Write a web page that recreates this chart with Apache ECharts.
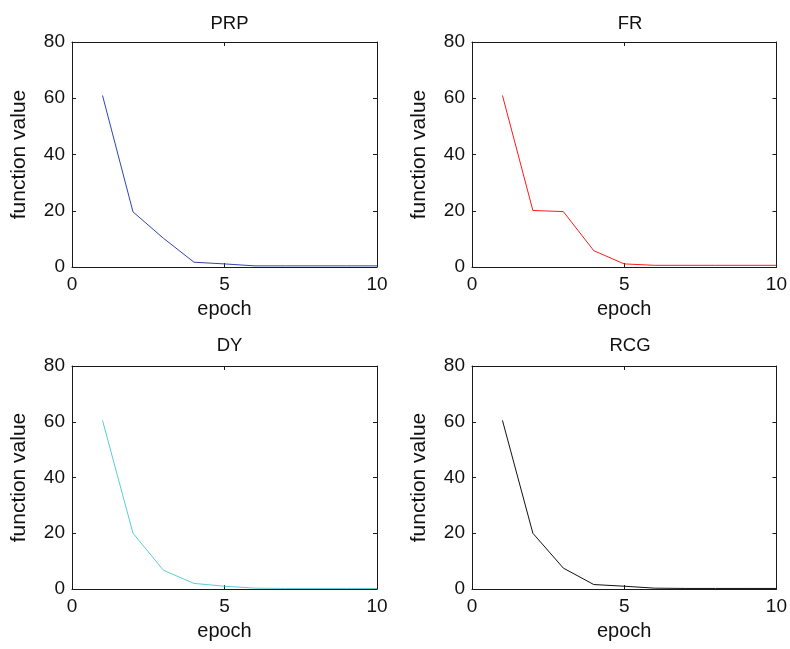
<!DOCTYPE html>
<html>
<head>
<meta charset="utf-8">
<script src="https://cdn.jsdelivr.net/npm/echarts@6/dist/echarts.min.js"></script>
<style>html,body{margin:0;padding:0;background:#fff;}#c{width:790px;height:649px;}</style>
</head>
<body>
<div id="c"></div>
<script>
const epochs = [1, 2, 3, 4, 5, 6, 7, 8, 9, 10];
const prpValues = [61, 19.6, 10.2, 1.7, 1.1, 0.4, 0.4, 0.4, 0.4, 0.4];
const frValues  = [61, 20.1, 19.7, 5.8, 1.1, 0.6, 0.6, 0.6, 0.6, 0.6];
const dyValues  = [60.5, 20, 6.7, 2.0, 1.0, 0.3, 0.2, 0.2, 0.2, 0.2];
const rcgValues = [60.5, 20, 7.5, 1.6, 1.0, 0.3, 0.2, 0.2, 0.2, 0.2];
const titles = ['PRP', 'FR', 'DY', 'RCG'];
const colors = ['#2f45ad', '#ff1a1a', '#5cccd8', '#111111'];
const xTicks = { min: 0, max: 10, interval: 5 };
const yTicks = { min: 0, max: 80, interval: 20 };

const grids = [
  { left: 72, top: 42, width: 305, height: 225 },
  { left: 472, top: 42, width: 306, height: 225 },
  { left: 72, top: 366, width: 305, height: 223 },
  { left: 472, top: 366, width: 306, height: 223 }
];
const titleOffsets = [33, 33, 35, 35];
const allValues = [prpValues, frValues, dyValues, rcgValues];
const font = 'Liberation Sans, Arial, Helvetica, sans-serif';
const axisColor = '#1a1a1a';

const xAxes = [], yAxes = [], series = [], titleArr = [];
grids.forEach((g, i) => {
  const base = {
    type: 'value', gridIndex: i,
    axisLine: { show: true, onZero: false, lineStyle: { color: axisColor, width: 1 } },
    splitLine: { show: false },
    axisTick: { show: true, inside: true, length: 4, lineStyle: { color: axisColor } }
  };
  xAxes.push(Object.assign({}, base, {
    position: 'bottom', min: xTicks.min, max: xTicks.max, interval: xTicks.interval,
    name: 'epoch', nameLocation: 'middle', nameGap: 32.5,
    nameTextStyle: { fontFamily: font, fontSize: 20, color: '#111' },
    axisLabel: { margin: 8.5, fontFamily: font, fontSize: 19, color: '#111' }
  }));
  xAxes.push(Object.assign({}, base, {
    position: 'top', min: xTicks.min, max: xTicks.max, interval: xTicks.interval,
    axisLabel: { show: false }
  }));
  yAxes.push(Object.assign({}, base, {
    position: 'left', min: yTicks.min, max: yTicks.max, interval: yTicks.interval,
    name: 'function value', nameLocation: 'middle', nameGap: 42, nameRotate: 90,
    nameTextStyle: { fontFamily: font, fontSize: 21, color: '#111' },
    axisLabel: { margin: 7, fontFamily: font, fontSize: 19, color: '#111' }
  }));
  yAxes.push(Object.assign({}, base, {
    position: 'right', min: yTicks.min, max: yTicks.max, interval: yTicks.interval,
    axisLabel: { show: false }
  }));
  series.push({
    type: 'line', xAxisIndex: i * 2, yAxisIndex: i * 2,
    data: epochs.map((e, k) => [e, allValues[i][k]]),
    showSymbol: false, symbol: 'none',
    lineStyle: { color: colors[i], width: 1 },
    animation: false
  });
  titleArr.push({
    text: titles[i], left: g.left + g.width / 2, top: g.top - titleOffsets[i], textAlign: 'center',
    textStyle: { fontFamily: font, fontSize: 18.5, fontWeight: 'normal', color: '#111' }
  });
});

const chart = echarts.init(document.getElementById('c'), null, { renderer: 'canvas' });
chart.setOption({
  animation: false,
  backgroundColor: '#fff',
  title: titleArr,
  grid: grids,
  xAxis: xAxes,
  yAxis: yAxes,
  series: series
});
</script>
</body>
</html>
